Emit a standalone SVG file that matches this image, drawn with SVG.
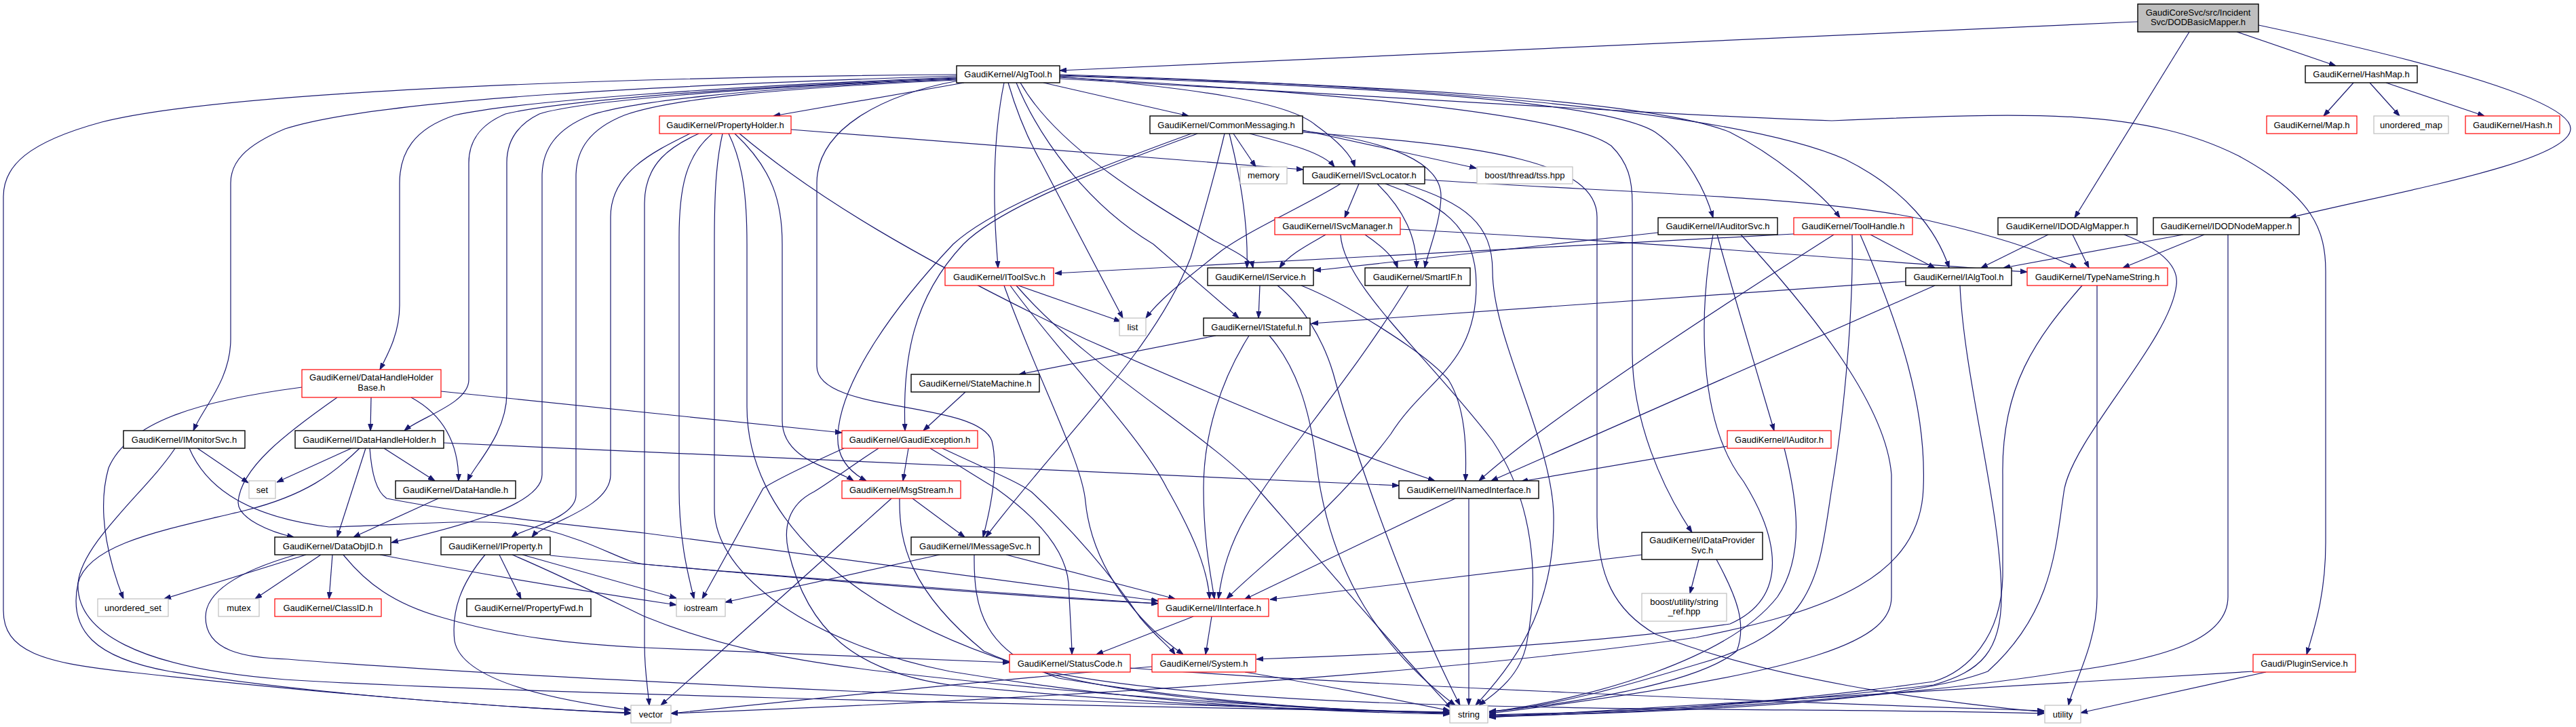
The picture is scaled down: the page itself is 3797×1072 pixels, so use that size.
<svg xmlns="http://www.w3.org/2000/svg" width="3797" height="1072" viewBox="0 0 3797 1072">
<style>
.e path{fill:none;stroke:#191970;stroke-width:1.2;marker-end:url(#ah)}
.nd rect{fill:#fff;stroke:#000;stroke-width:1.4}
.nd.r rect{stroke:#ff0000;stroke-width:1.2}
.nd.g rect{stroke:#bfbfbf;stroke-width:1.2}
.nd.root rect{fill:#bfbfbf}
.nd text{font-family:"Liberation Sans",Arial,sans-serif;font-size:13px;text-anchor:middle;fill:#000}
</style>
<defs>
<marker id="ah" viewBox="0 0 10 8" refX="10" refY="4" markerWidth="10" markerHeight="8" orient="auto" markerUnits="userSpaceOnUse"><path d="M0,0.5 L10,4 L0,7.5 z" fill="#191970" stroke="#191970" stroke-width="1"/></marker>
</defs>
<rect width="3797" height="1072" fill="#fff"/>
<g id="edges" class="e">
<path d="M3151,32 L1562,104"/>
<path d="M3297,47 L3443,97"/>
<path d="M3227,47 L3058,321"/>
<path d="M3329,37 C3600,95 3790,150 3789,190 C3788,240 3520,285 3375,321"/>
<path d="M3469,122 L3425,171"/>
<path d="M3493,122 L3537,171"/>
<path d="M3517,122 L3662,171"/>
<path d="M1410,110 C1000,113 350,130 150,180 C40,210 5,245 5,290 L5,900 C5,960 60,978 200,992 C450,1020 750,1045 930,1051"/>
<path d="M1410,112 C1000,125 560,145 420,190 C360,215 340,240 340,270 L340,500 C340,560 300,600 285,635"/>
<path d="M1410,114 C1050,128 760,150 670,170 C610,190 589,225 589,270 L589,450 C589,490 573,520 560,545"/>
<path d="M1410,115 C1050,130 820,150 745,168 C705,185 691,210 691,240 L691,560 C691,595 620,615 596,635"/>
<path d="M1410,116 C1080,130 850,150 795,168 C760,185 747,210 747,240 L747,580 C747,640 700,685 689,709"/>
<path d="M1410,117 C1100,130 930,150 870,170 C820,190 799,220 799,260 L799,700 C799,750 640,785 577,800"/>
<path d="M1410,118 C1150,130 990,145 920,170 C870,190 849,220 849,260 L849,730 C849,765 770,780 754,792"/>
<path d="M1421,122 L1140,171"/>
<path d="M1412,119 C1300,140 1204,190 1204,270 L1204,540 C1204,610 1440,590 1462,650 C1472,690 1460,750 1449,792"/>
<path d="M1480,122 C1470,170 1465,230 1466,300 C1467,350 1470,375 1471,395"/>
<path d="M1486,122 C1500,170 1515,205 1535,240 L1655,469"/>
<path d="M1498,122 C1530,200 1600,300 1700,360 L1826,469"/>
<path d="M1504,122 C1560,220 1700,300 1790,355 C1830,375 1845,385 1847,395"/>
<path d="M1538,122 L1752,171"/>
<path d="M1562,113 C1760,130 1900,150 1940,185 C1975,210 1992,230 1997,246"/>
<path d="M1562,114 C1850,130 2300,160 2375,215 C2400,240 2406,265 2406,300 L2406,520 C2406,620 2450,720 2494,785"/>
<path d="M1562,112 C1950,125 2360,145 2440,195 C2490,230 2515,285 2525,321"/>
<path d="M1562,111 C2000,125 2430,145 2550,195 C2620,230 2690,290 2712,321"/>
<path d="M1562,110 C2050,125 2550,160 2720,235 C2810,280 2855,340 2873,395"/>
<path d="M1562,116 C2000,140 2500,172 2700,178 C3000,165 3160,160 3300,230 C3410,290 3428,340 3428,400 L3428,800 C3428,880 3410,930 3400,965"/>
<path d="M1166,191 L1921,250"/>
<path d="M1017,197 C960,225 900,255 900,320 L900,700 C900,750 800,772 784,792"/>
<path d="M1030,197 C990,215 950,240 950,300 L950,950 C950,990 955,1015 957,1040"/>
<path d="M1050,197 C1010,230 1001,280 1001,350 L1001,720 C1001,800 1015,850 1023,883"/>
<path d="M1065,197 C1055,240 1053,290 1053,360 L1053,750 C1053,850 1200,950 1400,990 C1700,1040 1950,1050 2137,1053"/>
<path d="M1074,197 C1095,240 1101,290 1101,360 L1101,600 C1101,760 1250,900 1500,980 C1800,1060 2600,1040 3013,1052"/>
<path d="M1083,197 C1140,250 1153,300 1153,360 L1153,620 C1153,680 1230,690 1258,709"/>
<path d="M1090,197 C1200,290 1350,380 1600,500 C1850,610 2000,670 2115,709"/>
<path d="M1765,197 C1650,240 1480,300 1420,360 C1345,440 1330,530 1334,635"/>
<path d="M1756,197 C1640,240 1470,300 1405,360 C1320,450 1240,560 1235,640 C1232,680 1260,700 1277,709"/>
<path d="M1805,197 C1790,260 1770,330 1755,380 C1700,520 1560,650 1453,792"/>
<path d="M1812,197 C1828,260 1840,330 1838,395"/>
<path d="M1818,197 L1851,246"/>
<path d="M1842,197 C1900,212 1950,225 1967,246"/>
<path d="M1920,192 L2176,248"/>
<path d="M1920,193 C2050,208 2125,240 2124,290 C2123,330 2105,370 2100,395"/>
<path d="M1920,195 C2200,215 2354,240 2354,320 L2354,760 C2354,850 2380,900 2440,935 C2600,1000 2850,1035 3013,1050"/>
<path d="M1976,271 C1930,300 1840,340 1800,370 C1750,410 1710,440 1689,469"/>
<path d="M2003,271 L1982,321"/>
<path d="M2030,271 C2070,310 2088,350 2088,395"/>
<path d="M2042,271 C2120,300 2176,330 2176,420 C2176,540 2100,560 2050,640 C1960,760 1860,830 1808,883"/>
<path d="M2070,271 C2160,300 2200,330 2200,400 C2200,500 2288,650 2290,760 C2292,900 2230,980 2175,1040"/>
<path d="M2100,265 C2400,285 2700,290 2850,327 C2950,350 3020,375 3061,395"/>
<path d="M1954,346 C1930,360 1900,375 1886,395"/>
<path d="M2012,346 C2040,365 2055,380 2060,395"/>
<path d="M2064,338 C2400,355 2700,380 2988,401"/>
<path d="M1976,346 C1980,420 2100,520 2200,650 C2260,740 2270,850 2250,950 C2240,1000 2200,1025 2180,1040"/>
<path d="M1857,421 L1855,469"/>
<path d="M1918,421 C1990,450 2100,520 2135,560 C2160,600 2162,660 2160,709"/>
<path d="M1883,421 C1920,450 1950,500 1965,550 C2000,680 2080,900 2152,1040"/>
<path d="M1792,495 L1502,552"/>
<path d="M1841,495 C1800,560 1774,640 1774,720 C1774,800 1785,850 1790,883"/>
<path d="M1871,495 C1910,540 1930,600 1940,680 C1960,850 2040,960 2145,1040"/>
<path d="M1423,578 L1361,635"/>
<path d="M1501,421 L1652,474"/>
<path d="M1489,421 C1560,520 1680,640 1720,720 C1760,790 1780,840 1783,883"/>
<path d="M1480,421 C1530,560 1595,680 1600,740 C1610,840 1680,920 1744,965"/>
<path d="M1498,421 C1600,540 1780,640 1853,720 C1950,830 2050,950 2140,1045"/>
<path d="M2076,421 C1990,560 1900,660 1850,740 C1810,800 1800,850 1796,883"/>
<path d="M2145,735 L1834,884"/>
<path d="M2165,735 L2165,1040"/>
<path d="M2444,343 L1937,399"/>
<path d="M2531,346 C2560,450 2590,550 2615,635"/>
<path d="M2525,346 C2505,450 2500,620 2570,710 C2620,790 2640,880 2550,920 C2350,950 2050,965 1852,972"/>
<path d="M2566,346 C2680,470 2780,600 2788,700 L2788,880 C2788,940 2700,990 2195,1052"/>
<path d="M2546,658 L2242,710"/>
<path d="M2630,661 C2650,740 2660,820 2620,880 C2550,970 2350,1030 2195,1050"/>
<path d="M2644,345 L1555,403"/>
<path d="M2703,346 C2650,380 2300,600 2180,709"/>
<path d="M2730,346 C2732,450 2720,600 2700,720 C2680,850 2680,930 2500,980 C2400,1010 2300,1040 2195,1050"/>
<path d="M2742,346 C2800,480 2840,600 2835,720 C2830,850 2700,900 2500,940 C2000,1010 1300,1040 989,1052"/>
<path d="M2757,346 L2852,395"/>
<path d="M2809,415 L1933,477"/>
<path d="M2852,421 L2198,709"/>
<path d="M2889,421 C2895,560 2950,750 2950,880 C2950,960 2920,990 2850,1010 C2600,1040 2400,1050 2195,1054"/>
<path d="M3069,421 C3000,500 2950,570 2952,700 L2952,850 C2950,940 2900,990 2850,1005 C2600,1040 2400,1050 2195,1055"/>
<path d="M3091,421 L3091,880 C3091,950 3055,1010 3049,1040"/>
<path d="M3019,346 L2920,395"/>
<path d="M3055,346 L3079,395"/>
<path d="M3131,346 C3180,365 3212,390 3208,420 C3200,500 3060,640 3043,720 C3030,800 3030,900 2930,990 C2800,1040 2400,1052 2195,1056"/>
<path d="M3218,346 L2953,395"/>
<path d="M3249,346 L3129,395"/>
<path d="M3284,346 L3284,880 C3284,940 3200,970 3050,990 C2800,1030 2450,1050 2195,1057"/>
<path d="M3321,990 L2195,1058"/>
<path d="M3340,991 L3067,1051"/>
<path d="M445,571 C300,590 190,620 160,690 C140,760 165,840 182,883"/>
<path d="M547,586 L546,635"/>
<path d="M606,586 C650,610 676,650 676,709"/>
<path d="M497,586 C420,640 355,690 351,740 C350,765 400,785 433,792"/>
<path d="M650,577 L1241,638"/>
<path d="M291,661 L366,712"/>
<path d="M279,661 C300,710 350,760 485,777 C600,775 720,760 800,780 C880,800 920,830 950,832 C1200,855 1500,880 1707,890"/>
<path d="M258,661 C220,720 120,800 115,860 C112,930 200,985 420,1002 C700,1020 1500,1040 2137,1050"/>
<path d="M518,661 L408,711"/>
<path d="M530,661 C490,700 450,730 364,752 C250,780 130,800 115,860 C100,930 140,970 250,990 C500,1030 800,1045 930,1052"/>
<path d="M539,661 L497,792"/>
<path d="M545,661 C548,700 555,725 570,735 C700,760 850,775 950,786 C1300,830 1550,865 1707,886"/>
<path d="M566,661 L641,709"/>
<path d="M654,653 L2062,716"/>
<path d="M646,735 L521,792"/>
<path d="M451,818 L242,883"/>
<path d="M473,818 L376,883"/>
<path d="M490,818 L485,883"/>
<path d="M436,818 C360,840 303,870 303,910 C303,960 360,970 424,972 C700,995 1500,1035 2137,1051"/>
<path d="M506,818 C540,860 580,890 650,910 C750,940 850,950 950,955 C1200,965 1350,972 1488,977"/>
<path d="M560,818 C700,845 850,870 997,892"/>
<path d="M715,818 C680,860 665,900 670,945 C680,1000 800,1030 930,1047"/>
<path d="M736,818 L768,883"/>
<path d="M755,818 C830,850 900,885 950,909 C1050,950 1150,972 1300,990 C1600,1025 1900,1045 2137,1052"/>
<path d="M770,818 L997,882"/>
<path d="M811,819 C1000,838 1400,870 1707,890"/>
<path d="M1385,818 L1069,888"/>
<path d="M1483,818 L1732,883"/>
<path d="M1436,818 C1435,900 1450,960 1560,1000 C1800,1040 2000,1048 2137,1052"/>
<path d="M1314,735 L974,1040"/>
<path d="M1326,735 C1325,800 1340,870 1450,960 C1600,1030 1900,1045 2137,1051"/>
<path d="M1345,735 L1422,792"/>
<path d="M1339,661 L1331,709"/>
<path d="M1244,661 C1180,690 1140,710 1125,720 L1035,883"/>
<path d="M1295,661 C1250,690 1225,710 1200,725 C1160,745 1155,780 1162,812 C1190,930 1260,990 1400,1010 C1700,1040 1950,1048 2137,1051"/>
<path d="M1371,661 C1420,690 1450,710 1468,720 C1510,750 1570,800 1575,860 C1578,920 1580,950 1580,965"/>
<path d="M1389,661 C1450,690 1500,710 1520,725 C1580,780 1640,850 1680,910 C1705,940 1725,955 1732,965"/>
<path d="M2420,818 L1872,884"/>
<path d="M2504,825 L2491,875"/>
<path d="M2530,825 C2560,880 2575,920 2560,960 C2500,1010 2300,1040 2195,1049"/>
<path d="M1759,909 L1616,965"/>
<path d="M1786,909 L1777,965"/>
<path d="M1666,985 C2000,1010 2600,1035 3013,1048"/>
<path d="M1698,983 C1500,1000 1200,1030 989,1052"/>
<path d="M1835,991 C1950,1010 2050,1030 2137,1048"/>
</g>
<g id="n_root" class="nd root"><rect x="3151" y="6" width="178" height="41"/><text x="3240" y="22.5">GaudiCoreSvc/src/Incident</text><text x="3240" y="37">Svc/DODBasicMapper.h</text></g>
<g id="n_AlgTool" class="nd"><rect x="1410" y="97" width="152" height="25"/><text x="1486" y="114">GaudiKernel/AlgTool.h</text></g>
<g id="n_HashMap" class="nd"><rect x="3398" y="97" width="165" height="25"/><text x="3480.5" y="114">GaudiKernel/HashMap.h</text></g>
<g id="n_PropertyHolder" class="nd r"><rect x="972" y="171" width="194" height="26"/><text x="1069" y="188.5">GaudiKernel/PropertyHolder.h</text></g>
<g id="n_CommonMessaging" class="nd"><rect x="1695" y="171" width="225" height="26"/><text x="1807.5" y="188.5">GaudiKernel/CommonMessaging.h</text></g>
<g id="n_Map" class="nd r"><rect x="3341" y="171" width="133" height="26"/><text x="3407.5" y="188.5">GaudiKernel/Map.h</text></g>
<g id="n_unordered_map" class="nd g"><rect x="3499" y="171" width="110" height="26"/><text x="3554" y="188.5">unordered_map</text></g>
<g id="n_Hash" class="nd r"><rect x="3634" y="171" width="139" height="26"/><text x="3703.5" y="188.5">GaudiKernel/Hash.h</text></g>
<g id="n_memory" class="nd g"><rect x="1828" y="246" width="69" height="25"/><text x="1862.5" y="263">memory</text></g>
<g id="n_ISvcLocator" class="nd"><rect x="1921" y="246" width="179" height="25"/><text x="2010.5" y="263">GaudiKernel/ISvcLocator.h</text></g>
<g id="n_tss" class="nd g"><rect x="2177" y="246" width="141" height="25"/><text x="2247.5" y="263">boost/thread/tss.hpp</text></g>
<g id="n_ISvcManager" class="nd r"><rect x="1879" y="321" width="185" height="25"/><text x="1971.5" y="338">GaudiKernel/ISvcManager.h</text></g>
<g id="n_IAuditorSvc" class="nd"><rect x="2444" y="321" width="176" height="25"/><text x="2532" y="338">GaudiKernel/IAuditorSvc.h</text></g>
<g id="n_ToolHandle" class="nd r"><rect x="2644" y="321" width="175" height="25"/><text x="2731.5" y="338">GaudiKernel/ToolHandle.h</text></g>
<g id="n_IDODAlgMapper" class="nd"><rect x="2945" y="321" width="205" height="25"/><text x="3047.5" y="338">GaudiKernel/IDODAlgMapper.h</text></g>
<g id="n_IDODNodeMapper" class="nd"><rect x="3174" y="321" width="215" height="25"/><text x="3281.5" y="338">GaudiKernel/IDODNodeMapper.h</text></g>
<g id="n_IToolSvc" class="nd r"><rect x="1393" y="395" width="160" height="26"/><text x="1473" y="412.5">GaudiKernel/IToolSvc.h</text></g>
<g id="n_IService" class="nd"><rect x="1780" y="395" width="156" height="26"/><text x="1858" y="412.5">GaudiKernel/IService.h</text></g>
<g id="n_SmartIF" class="nd"><rect x="2012" y="395" width="155" height="26"/><text x="2089.5" y="412.5">GaudiKernel/SmartIF.h</text></g>
<g id="n_IAlgTool" class="nd"><rect x="2809" y="395" width="156" height="26"/><text x="2887" y="412.5">GaudiKernel/IAlgTool.h</text></g>
<g id="n_TypeNameString" class="nd r"><rect x="2988" y="395" width="207" height="26"/><text x="3091.5" y="412.5">GaudiKernel/TypeNameString.h</text></g>
<g id="n_list" class="nd g"><rect x="1650" y="469" width="39" height="26"/><text x="1669.5" y="486.5">list</text></g>
<g id="n_IStateful" class="nd"><rect x="1774" y="469" width="157" height="26"/><text x="1852.5" y="486.5">GaudiKernel/IStateful.h</text></g>
<g id="n_DataHandleHolderBase" class="nd r"><rect x="445" y="545" width="205" height="41"/><text x="547.5" y="561">GaudiKernel/DataHandleHolder</text><text x="547.5" y="575.5">Base.h</text></g>
<g id="n_StateMachine" class="nd"><rect x="1343" y="552" width="189" height="26"/><text x="1437.5" y="569.5">GaudiKernel/StateMachine.h</text></g>
<g id="n_IMonitorSvc" class="nd"><rect x="182" y="635" width="179" height="26"/><text x="271.5" y="652.5">GaudiKernel/IMonitorSvc.h</text></g>
<g id="n_IDataHandleHolder" class="nd"><rect x="435" y="635" width="219" height="26"/><text x="544.5" y="652.5">GaudiKernel/IDataHandleHolder.h</text></g>
<g id="n_GaudiException" class="nd r"><rect x="1241" y="635" width="200" height="26"/><text x="1341" y="652.5">GaudiKernel/GaudiException.h</text></g>
<g id="n_IAuditor" class="nd r"><rect x="2546" y="635" width="153" height="26"/><text x="2622.5" y="652.5">GaudiKernel/IAuditor.h</text></g>
<g id="n_set" class="nd g"><rect x="367" y="709" width="39" height="26"/><text x="386.5" y="726.5">set</text></g>
<g id="n_DataHandle" class="nd"><rect x="583" y="709" width="177" height="26"/><text x="671.5" y="726.5">GaudiKernel/DataHandle.h</text></g>
<g id="n_MsgStream" class="nd r"><rect x="1241" y="709" width="175" height="26"/><text x="1328.5" y="726.5">GaudiKernel/MsgStream.h</text></g>
<g id="n_INamedInterface" class="nd"><rect x="2062" y="709" width="206" height="26"/><text x="2165" y="726.5">GaudiKernel/INamedInterface.h</text></g>
<g id="n_DataObjID" class="nd"><rect x="405" y="792" width="171" height="26"/><text x="490.5" y="809.5">GaudiKernel/DataObjID.h</text></g>
<g id="n_IProperty" class="nd"><rect x="650" y="792" width="161" height="26"/><text x="730.5" y="809.5">GaudiKernel/IProperty.h</text></g>
<g id="n_IMessageSvc" class="nd"><rect x="1343" y="792" width="189" height="26"/><text x="1437.5" y="809.5">GaudiKernel/IMessageSvc.h</text></g>
<g id="n_IDataProviderSvc" class="nd"><rect x="2420" y="785" width="178" height="40"/><text x="2509" y="801">GaudiKernel/IDataProvider</text><text x="2509" y="815.5">Svc.h</text></g>
<g id="n_unordered_set" class="nd g"><rect x="144" y="883" width="104" height="26"/><text x="196" y="900.5">unordered_set</text></g>
<g id="n_mutex" class="nd g"><rect x="322" y="883" width="60" height="26"/><text x="352" y="900.5">mutex</text></g>
<g id="n_ClassID" class="nd r"><rect x="405" y="883" width="157" height="26"/><text x="483.5" y="900.5">GaudiKernel/ClassID.h</text></g>
<g id="n_PropertyFwd" class="nd"><rect x="688" y="883" width="183" height="26"/><text x="779.5" y="900.5">GaudiKernel/PropertyFwd.h</text></g>
<g id="n_iostream" class="nd g"><rect x="997" y="883" width="72" height="26"/><text x="1033" y="900.5">iostream</text></g>
<g id="n_IInterface" class="nd r"><rect x="1707" y="883" width="163" height="26"/><text x="1788.5" y="900.5">GaudiKernel/IInterface.h</text></g>
<g id="n_string_ref" class="nd g"><rect x="2420" y="875" width="125" height="41"/><text x="2482.5" y="891.5">boost/utility/string</text><text x="2482.5" y="906">_ref.hpp</text></g>
<g id="n_StatusCode" class="nd r"><rect x="1488" y="965" width="178" height="26"/><text x="1577" y="982.5">GaudiKernel/StatusCode.h</text></g>
<g id="n_System" class="nd r"><rect x="1698" y="965" width="153" height="26"/><text x="1774.5" y="982.5">GaudiKernel/System.h</text></g>
<g id="n_PluginService" class="nd r"><rect x="3321" y="965" width="151" height="26"/><text x="3396.5" y="982.5">Gaudi/PluginService.h</text></g>
<g id="n_vector" class="nd g"><rect x="930" y="1040" width="59" height="26"/><text x="959.5" y="1057.5">vector</text></g>
<g id="n_string" class="nd g"><rect x="2137" y="1040" width="56" height="26"/><text x="2165" y="1057.5">string</text></g>
<g id="n_utility" class="nd g"><rect x="3014" y="1040" width="53" height="26"/><text x="3040.5" y="1057.5">utility</text></g>
</svg>
